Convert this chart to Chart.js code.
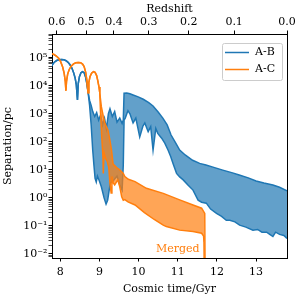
<!DOCTYPE html>
<html>
<head>
<meta charset="utf-8">
<script src="https://cdn.jsdelivr.net/npm/chart.js@4/dist/chart.umd.min.js"></script>
<style>
  html, body { margin: 0; padding: 0; background: #fff; }
  #wrap { width: 300px; height: 300px; }
</style>
</head>
<body>
<div id="wrap"><canvas id="chart"></canvas></div>
<script>
// --- data (cosmic time in Gyr, separation in pc) ---
const seriesNames = ['A-B', 'A-C'];
const seriesColors = ['#1f77b4', '#ff7f0e'];
const fillColors = ['rgba(31,119,180,0.7)', 'rgba(255,127,14,0.7)'];

// A-B: single orbit track before the band splits
const abEarlyT = [7.78, 7.82, 7.87, 7.92, 7.97, 8.03, 8.09, 8.15, 8.20, 8.25, 8.30, 8.34, 8.38, 8.41, 8.44,
  8.46, 8.49, 8.53, 8.57, 8.61, 8.65, 8.68, 8.71];
const abEarlyV = [5.0e4, 6.2e4, 7.3e4, 8.1e4, 8.5e4, 8.7e4, 8.5e4, 7.8e4, 6.8e4, 5.6e4, 4.2e4, 3.0e4, 1.9e4, 1.1e4, 3.1e3,
  1.2e4, 2.1e4, 2.9e4, 3.2e4, 2.9e4, 2.0e4, 1.2e4, 6e3];
const abUpperT = [8.75, 8.79, 8.83, 8.88, 8.93, 8.98, 9.03, 9.08, 9.13, 9.18, 9.23, 9.27, 9.33, 9.39, 9.45, 9.52, 9.58, 9.61,
  9.63, 9.70, 9.78, 9.86, 9.99, 10.12, 10.26, 10.37, 10.50, 10.62, 10.73, 10.83, 10.95, 11.05, 11.19, 11.38, 11.56, 11.72,
  11.9, 12.15, 12.4, 12.57, 12.8, 13.0, 13.2, 13.43, 13.6, 13.79];
const abUpperV = [3e3, 2e3, 1.2e3, 800, 1.1e3, 600, 900, 400, 700, 300, 1.0e3, 1.5e3, 800, 1.2e3, 500, 700, 450, 600,
  5.4e3, 5.5e3, 5.2e3, 4.7e3, 4.0e3, 3.3e3, 2.5e3, 1.9e3, 1.15e3, 700, 400, 175, 90, 51, 34, 22, 17, 15,
  12.5, 9.8, 7.8, 6.6, 5.2, 4.0, 3.4, 2.9, 2.4, 1.8];
const abLowerT = [8.75, 8.79, 8.83, 8.86, 8.89, 8.92, 8.95, 9.00, 9.05, 9.12, 9.17, 9.21, 9.25, 9.28, 9.35, 9.45, 9.52, 9.58,
  9.61, 9.63, 9.66, 9.70, 9.73, 9.78, 9.86, 9.93, 10.03, 10.11, 10.16, 10.245, 10.31, 10.37, 10.44, 10.49, 10.59, 10.67,
  10.755, 10.82, 10.88, 10.97, 11.05, 11.14, 11.26, 11.39, 11.52, 11.61, 11.73, 11.84, 11.99, 12.12, 12.24, 12.33, 12.46,
  12.58, 12.74, 12.92, 13.04, 13.15, 13.27, 13.35, 13.43, 13.5, 13.6, 13.71, 13.79];
const abLowerV = [2e3, 400, 50, 15, 5, 3.7, 6, 4, 2.5, 1.0, 0.6, 0.83, 1.9, 3.4, 4, 6, 2.9, 1.9,
  15, 600, 700, 1.0e3, 1.3e3, 1.0e3, 470, 700, 150, 360, 470, 230, 350, 51, 300, 200, 135, 90,
  50, 30, 17, 7.5, 5.6, 4.4, 2.9, 1.9, 0.83, 0.7, 0.65, 0.4, 0.28, 0.22, 0.16, 0.16, 0.14,
  0.107, 0.091, 0.071, 0.075, 0.06, 0.06, 0.05, 0.042, 0.06, 0.05, 0.046, 0.036];

// A-C
const acEarlyT = [7.78, 7.84, 7.90, 7.96, 8.01, 8.06, 8.10, 8.13, 8.145, 8.16, 8.19, 8.23, 8.28, 8.34, 8.40, 8.46, 8.52,
  8.57, 8.61, 8.65, 8.68, 8.71, 8.73, 8.76, 8.80, 8.85, 8.89, 8.93, 8.96, 8.99, 9.01];
const acEarlyV = [1.4e5, 1.3e5, 1.15e5, 9.5e4, 7.2e4, 4.8e4, 2.8e4, 1.4e4, 6.6e3, 1.4e4, 2.6e4, 3.8e4, 5.0e4, 6.0e4, 6.6e4,
  6.8e4, 6.6e4, 5.9e4, 4.8e4, 3.0e4, 1.6e4, 5.6e3, 1.3e4, 2.1e4, 2.8e4, 3.2e4, 3.0e4, 2.3e4, 1.5e4, 9e3, 5.5e3];
const acUpperT = [9.05, 9.10, 9.14, 9.18, 9.22, 9.27, 9.31, 9.35, 9.44, 9.52, 9.61, 9.65, 9.74, 9.91, 10.2, 10.63, 11.05,
  11.39, 11.61, 11.69, 11.70];
const acUpperV = [1.8e3, 800, 470, 340, 260, 110, 50, 16, 12, 10, 7.5, 5.8, 4.6, 3.8, 2.2, 1.45, 0.85, 0.56, 0.43, 0.28, 0.001];
const acLowerT = [9.03, 9.06, 9.09, 9.10, 9.12, 9.16, 9.20, 9.24, 9.27, 9.30, 9.32, 9.35, 9.39, 9.47, 9.52, 9.57, 9.61, 9.65,
  9.73, 9.91, 10.15, 10.4, 10.63, 10.71, 11.05, 11.39, 11.61, 11.66, 11.67, 11.68];
const acLowerV = [1e3, 150, 30, 7.5, 40, 25, 20, 12, 3.3, 1.5, 5.8, 3.5, 2.9, 4.4, 2.5, 1.1, 0.83, 0.87,
  0.72, 0.56, 0.3, 0.17, 0.107, 0.095, 0.071, 0.063, 0.055, 0.044, 0.027, 0.001];

// axes
const xTicks = [8, 9, 10, 11, 12, 13];
const yDecades = [-2, -1, 0, 1, 2, 3, 4, 5];
const redshiftLabels = ['0.6', '0.5', '0.4', '0.3', '0.2', '0.1', '0.0'];
const redshiftAges = [7.91, 8.66, 9.37, 10.26, 11.28, 12.44, 13.79];
const mergedLabelAt = [11.0, 0.0155];

const X_MIN = 7.79, X_MAX = 13.79, Y_MIN = 0.0072, Y_MAX = 7e5;

// --- helpers ---
function pts(ts, vs) {
    return ts.map((t, i) => ({ x: t, y: vs[i] }));
}

const SUP = { '-': '\u207B', '0': '\u2070', '1': '\u00B9', '2': '\u00B2', '3': '\u00B3',
              '4': '\u2074', '5': '\u2075', '6': '\u2076', '7': '\u2077', '8': '\u2078', '9': '\u2079' };
function powLabel(e) {
    return '10' + String(e).split('').map(c => SUP[c]).join('');
}

function band(name, idx, upper, lower, order) {
    return [
        { label: name, data: upper, borderColor: seriesColors[idx], backgroundColor: fillColors[idx],
          borderWidth: 1.5, pointRadius: 0, fill: '+1', order: order },
        { label: name + ' low', data: lower, borderColor: seriesColors[idx], backgroundColor: fillColors[idx],
          borderWidth: 1.5, pointRadius: 0, fill: false, order: order }
    ];
}

// --- extra drawing: right spine, legend box, "Merged" note ---
const decorPlugin = {
    id: 'decor',
    afterDatasetsDraw(chart) {
        const { ctx, scales } = chart;
        ctx.save();
        ctx.font = '11px "DejaVu Serif"';
        ctx.fillStyle = seriesColors[1];
        ctx.textAlign = 'center';
        ctx.textBaseline = 'middle';
        ctx.fillText('Merged', scales.x.getPixelForValue(mergedLabelAt[0]), scales.y.getPixelForValue(mergedLabelAt[1]));
        ctx.restore();
    },
    afterDraw(chart) {
        const { ctx, chartArea: a } = chart;
        ctx.save();
        // right spine
        ctx.strokeStyle = '#000';
        ctx.lineWidth = 1;
        ctx.beginPath();
        ctx.moveTo(a.right + 0.5, a.top);
        ctx.lineTo(a.right + 0.5, a.bottom + 0.5);
        ctx.stroke();

        // legend
        const x = a.right - 65, y = a.top + 9, w = 60, h = 37;
        ctx.fillStyle = 'rgba(255,255,255,0.8)';
        ctx.strokeStyle = '#cccccc';
        ctx.beginPath();
        ctx.roundRect(x + 0.5, y + 0.5, w, h, 2);
        ctx.fill();
        ctx.stroke();
        ctx.font = '11px "DejaVu Serif"';
        ctx.textAlign = 'left';
        ctx.textBaseline = 'middle';
        seriesNames.forEach((name, i) => {
            const ly = y + 9.5 + i * 17;
            ctx.strokeStyle = seriesColors[i];
            ctx.lineWidth = 1.5;
            ctx.beginPath();
            ctx.moveTo(x + 3, ly);
            ctx.lineTo(x + 27, ly);
            ctx.stroke();
            ctx.fillStyle = '#000';
            ctx.fillText(name, x + 33, ly);
        });
        ctx.restore();
    }
};

Chart.defaults.font.family = '"DejaVu Serif"';
Chart.defaults.font.size = 11;
Chart.defaults.color = '#000';

const gridOpts = { drawOnChartArea: false, drawTicks: true, tickLength: 3.5, tickColor: '#000' };
const borderOpts = { display: true, color: '#000', width: 1 };

const ctx = document.getElementById('chart').getContext('2d');
new Chart(ctx, {
    type: 'line',
    data: {
        datasets: [
            ...band(seriesNames[1], 1, pts(acEarlyT.concat(acUpperT), acEarlyV.concat(acUpperV)),
                    pts(acEarlyT.concat(acLowerT), acEarlyV.concat(acLowerV)), 1),
            ...band(seriesNames[0], 0, pts(abEarlyT.concat(abUpperT), abEarlyV.concat(abUpperV)),
                    pts(abEarlyT.concat(abLowerT), abEarlyV.concat(abLowerV)), 2)
        ]
    },
    options: {
        responsive: true,
        maintainAspectRatio: false,
        animation: false,
        layout: { padding: { right: 13 } },
        elements: { line: { tension: 0 } },
        plugins: { legend: { display: false }, tooltip: { enabled: false } },
        scales: {
            x: {
                type: 'linear', position: 'bottom', min: X_MIN, max: X_MAX,
                grid: gridOpts, border: borderOpts,
                afterBuildTicks: s => { s.ticks = xTicks.map(v => ({ value: v })); },
                afterFit: s => { s.height = 42; },
                ticks: { autoSkip: false, maxRotation: 0, padding: 4, callback: v => String(v) },
                title: { display: true, text: 'Cosmic time/Gyr', padding: { bottom: 4 } }
            },
            x2: {
                type: 'linear', position: 'top', min: X_MIN, max: X_MAX,
                grid: gridOpts, border: borderOpts,
                afterBuildTicks: s => { s.ticks = redshiftAges.map(v => ({ value: v })); },
                afterFit: s => { s.height = 34; },
                ticks: { autoSkip: false, maxRotation: 0, padding: 2,
                         callback: (v, i) => redshiftLabels[i] },
                title: { display: true, text: 'Redshift', padding: { top: 3 } }
            },
            y: {
                type: 'logarithmic', min: Y_MIN, max: Y_MAX,
                grid: Object.assign({}, gridOpts, {
                    tickWidth: c => (c.tick && c.tick.major) ? 1 : 0.7
                }),
                border: borderOpts,
                afterBuildTicks: s => {
                    const t = [];
                    for (let e = -3; e <= 5; e++) {
                        for (let m = 1; m <= 9; m++) {
                            const v = m * Math.pow(10, e);
                            if (v >= Y_MIN && v <= Y_MAX) t.push({ value: v, major: m === 1 });
                        }
                    }
                    s.ticks = t;
                },
                afterFit: s => { s.width = 52; },
                ticks: {
                    autoSkip: false, padding: 1,
                    callback: v => {
                        const e = Math.round(Math.log10(v));
                        return (Math.abs(v / Math.pow(10, e) - 1) < 1e-6 && yDecades.includes(e)) ? powLabel(e) : '';
                    }
                },
                title: { display: true, text: 'Separation/pc', padding: { top: 2 } }
            }
        }
    },
    plugins: [decorPlugin]
});
</script>
</body>
</html>
